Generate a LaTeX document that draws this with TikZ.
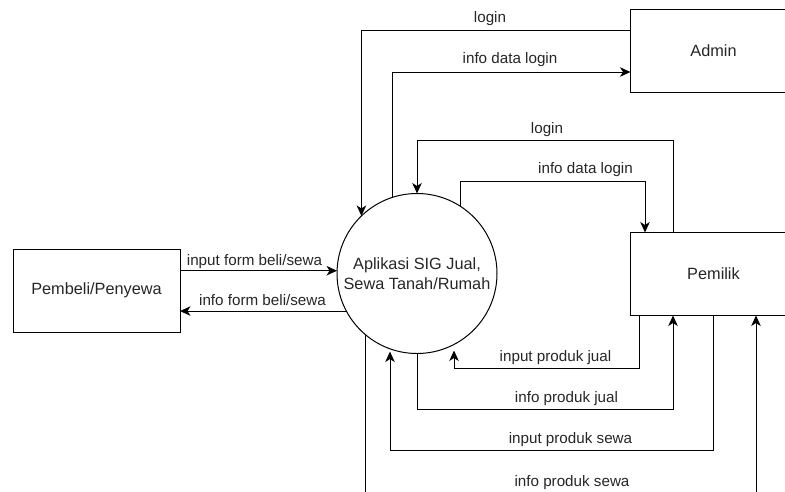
\documentclass[tikz,border=0pt]{standalone}
\usepackage{fontspec}
\setmainfont{Liberation Sans}
\usetikzlibrary{arrows.meta}

\begin{document}
\begin{tikzpicture}[x=1pt, y=-1pt,
    entity/.style={draw, line width=1pt, minimum width=166pt, minimum height=83pt,
        inner sep=0pt, outer sep=0pt, font=\fontsize{16.3}{20}\selectfont, text=black!85},
    process/.style={draw, circle, line width=1pt, minimum size=160pt, inner sep=0pt,
        outer sep=0pt, align=center, font=\fontsize{16.3}{20}\selectfont, text=black!85},
    flow/.style={line width=1pt, -{Stealth[length=10.5pt, width=9.5pt, inset=3pt]}},
    lbl/.style={anchor=base, inner sep=0pt, font=\fontsize{15.2}{18}\selectfont, text=black!85}]
    \useasboundingbox (0,0) rectangle (785,491);
    \clip (0,0) rectangle (785,491);

    % Draw the process and the entities
    \node[process] (app) at (417,273.5) {Aplikasi SIG Jual,\\Sewa Tanah/Rumah};
    \node[entity, anchor=north west] (admin) at (630.5,9) {Admin};
    \node[entity, anchor=north west] (pemilik) at (630.5,232.5) {Pemilik};
    \node[entity, minimum width=167pt] (pembeli) at (96.5,290.5) {Pembeli/Penyewa};

    % Flows between the admin and the process
    \draw[flow] ([yshift=20.5pt]admin.west) -| (app.134.4);
    \draw[flow] (app.108.2) |- ([yshift=-21.5pt]admin.west);
    \node[lbl] (tLogin) at (490,22) {login};
    \node[lbl] (tInfoLogin) at (510,63.5) {info data login};

    % Flows between the owner and the process, top side
    \draw[flow] ([xshift=42.5pt]pemilik.north west) -- ++(0,-92.5) -| (app.north);
    \draw[flow] (app.57.5) -- ++(0,-25) -| ([xshift=14.5pt]pemilik.north west);
    \node[lbl] (tLoginB) at (547,133.3) {login};
    \node[lbl] (tInfoLoginB) at (585.5,173.3) {info data login};

    % Flows between the buyer and the process
    \draw[flow] (app.178 -| pembeli.east) -- (app.178);
    \draw[flow] (app.208) -- (app.208 -| pembeli.east);
    \node[lbl] (tInputForm) at (254.5,265) {input form beli/sewa};
    \node[lbl] (tInfoForm) at (262.5,305.7) {info form beli/sewa};

    % Flows between the owner and the process, bottom side
    \draw[flow] ([xshift=8.5pt]pemilik.south west) -- ++(0,53) -| ([xshift=37pt,yshift=3pt]app.south);
    \draw[flow] (app.south) -- ++(0,55.5) -| ([xshift=42.5pt]pemilik.south west);
    \draw[flow] (pemilik.south) -- ++(0,134.5) -| ([xshift=-27pt,yshift=2pt]app.south);
    \draw[flow] (app.230.4) -- ++(0,160) -| ([xshift=125.5pt]pemilik.south west);
    \node[lbl] (tInputJual) at (555.5,361.7) {input produk jual};
    \node[lbl] (tInfoJual) at (566.5,402.7) {info produk jual};
    \node[lbl] (tInputSewa) at (570.5,443.3) {input produk sewa};
    \node[lbl] (tInfoSewa) at (572,486) {info produk sewa};
\end{tikzpicture}
\end{document}
